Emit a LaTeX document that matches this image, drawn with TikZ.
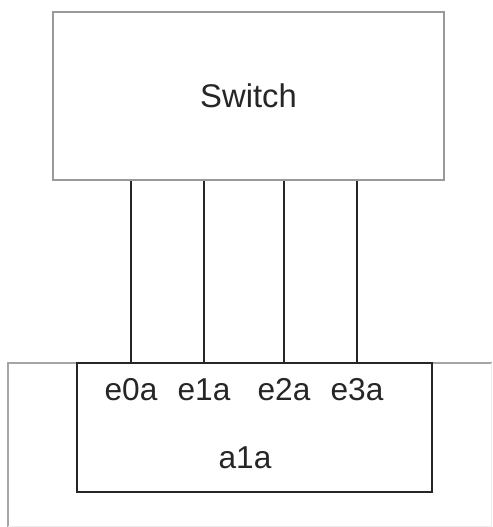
\documentclass[tikz,border=0pt]{standalone}
\usepackage{fontspec}
\setmainfont{Liberation Sans}
\begin{document}
\begin{tikzpicture}[x=0.03cm, y=-0.03cm,
	box/.style={draw, rectangle, inner sep=0pt},
	port/.style={font=\fontsize{27}{32}\selectfont, text=black!85}]
	\useasboundingbox (0,0) rectangle (492,527);
	\draw[gray!70, line width=1pt] (8,527) -- (8,363) -- (492,363);
	\draw[gray!15, line width=0.6pt] (491,363) -- (491,526) -- (8,526);

	\node[box, draw=gray!80, line width=1.6pt, minimum width=11.73cm, minimum height=5.04cm] (sw) at (248.5,96) {};
	\node[font=\fontsize{28}{34}\selectfont, text=black!85] (swlabel) at (248.5,96) {Switch};
	\node[box, draw=black!85, line width=2.2pt, minimum width=10.65cm, minimum height=3.87cm] (ctl) at (254.5,427.5) {};
	\node[port] (e0a) at (131,390) {e0a};
	\node[port] (e1a) at (204,390) {e1a};
	\node[port] (e2a) at (284,390) {e2a};
	\node[port] (e3a) at (357,390) {e3a};
	\node[port] (a1a) at (245,458) {a1a};

	\foreach \p in {e0a,e1a,e2a,e3a}
		\draw[black!85, line width=2.2pt] (\p |- sw.south) -- (\p |- ctl.north);
\end{tikzpicture}
\end{document}
